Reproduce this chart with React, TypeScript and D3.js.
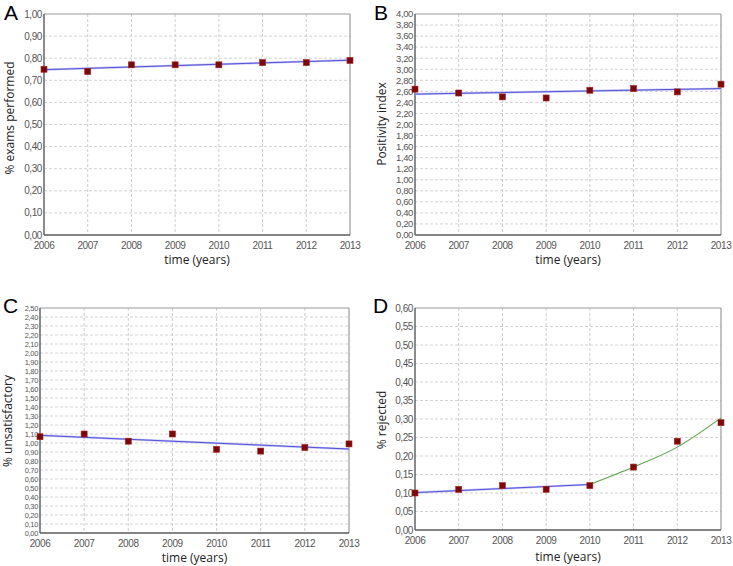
import React from "react";
import * as d3 from "d3";

const years = [2006, 2007, 2008, 2009, 2010, 2011, 2012, 2013];

const examsPerformed = [0.75, 0.74, 0.77, 0.77, 0.77, 0.78, 0.78, 0.79];
const examsTrend = [0.748, 0.791];

const positivityIndex = [2.64, 2.57, 2.5, 2.48, 2.62, 2.65, 2.59, 2.73];
const positivityTrend = [2.55, 2.65];

const unsatisfactory = [1.07, 1.1, 1.02, 1.1, 0.93, 0.91, 0.95, 0.99];
const unsatisfactoryTrend = [1.085, 0.933];

const rejected = [0.1, 0.11, 0.12, 0.11, 0.12, 0.17, 0.24, 0.29];
const rejectedTrendYears = [2006, 2010];
const rejectedTrend = [0.101, 0.123];
const rejectedCurveYears = [2010, 2011, 2012, 2013];
const rejectedCurve = [0.123, 0.17, 0.224, 0.303];

const ticksA = d3.range(0, 11).map((i) => i * 0.1);
const ticksB = d3.range(0, 21).map((i) => i * 0.2);
const ticksC = d3.range(0, 26).map((i) => i * 0.1);
const ticksD = d3.range(0, 13).map((i) => i * 0.05);

type Panel = {
  letter: string;
  ylabel: string;
  values: number[];
  trendYears: number[];
  trend: number[];
  curveYears?: number[];
  curve?: number[];
  ymax: number;
  ticks: number[];
  tickFont: number;
  tickSpacing: number;
  box: { l: number; r: number; t: number; b: number };
  letterPos: [number, number];
  ylabelPos: [number, number];
  xTickY: number;
  xTitleY: number;
};

const fmt = (v: number) => v.toFixed(2).replace(".", ",");

const panels: Panel[] = [
  {
    letter: "A",
    ylabel: "% exams performed",
    values: examsPerformed,
    trendYears: [2006, 2013],
    trend: examsTrend,
    ymax: 1,
    ticks: ticksA,
    tickFont: 10,
    tickSpacing: -0.4,
    box: { l: 44, r: 350, t: 14, b: 235 },
    letterPos: [4, 20],
    ylabelPos: [14, 118],
    xTickY: 249,
    xTitleY: 264,
  },
  {
    letter: "B",
    ylabel: "Positivity index",
    values: positivityIndex,
    trendYears: [2006, 2013],
    trend: positivityTrend,
    ymax: 4,
    ticks: ticksB,
    tickFont: 9.5,
    tickSpacing: -0.4,
    box: { l: 415, r: 721, t: 14, b: 235 },
    letterPos: [374, 20],
    ylabelPos: [386, 124],
    xTickY: 249,
    xTitleY: 264,
  },
  {
    letter: "C",
    ylabel: "% unsatisfactory",
    values: unsatisfactory,
    trendYears: [2006, 2013],
    trend: unsatisfactoryTrend,
    ymax: 2.5,
    ticks: ticksC,
    tickFont: 7.5,
    tickSpacing: -0.35,
    box: { l: 40, r: 349, t: 308, b: 533 },
    letterPos: [3, 313],
    ylabelPos: [12, 421],
    xTickY: 547,
    xTitleY: 562,
  },
  {
    letter: "D",
    ylabel: "% rejected",
    values: rejected,
    trendYears: rejectedTrendYears,
    trend: rejectedTrend,
    curveYears: rejectedCurveYears,
    curve: rejectedCurve,
    ymax: 0.6,
    ticks: ticksD,
    tickFont: 10,
    tickSpacing: -0.4,
    box: { l: 415, r: 721, t: 308, b: 530 },
    letterPos: [373, 313],
    ylabelPos: [386, 420],
    xTickY: 544,
    xTitleY: 561,
  },
];

function ChartPanel({ p }: { p: Panel }) {
  const { l, r, t, b } = p.box;
  const x = d3.scaleLinear().domain([2006, 2013]).range([l, r]);
  const y = d3.scaleLinear().domain([0, p.ymax]).range([b, t]);
  const line = d3
    .line<[number, number]>()
    .x((d) => x(d[0]))
    .y((d) => y(d[1]));
  const curveLine = d3
    .line<[number, number]>()
    .x((d) => x(d[0]))
    .y((d) => y(d[1]))
    .curve(d3.curveMonotoneX);
  const trendPts = p.trendYears.map((yr, i) => [yr, p.trend[i]] as [number, number]);
  const curvePts =
    p.curveYears && p.curve ? p.curveYears.map((yr, i) => [yr, p.curve![i]] as [number, number]) : null;
  const tickFont = "'Liberation Sans', Arial, sans-serif";
  return (
    <g>
      <text x={p.letterPos[0]} y={p.letterPos[1]} fontSize={21} fontFamily="'Liberation Sans', Arial, sans-serif" fill="#000">
        {p.letter}
      </text>
      {p.ticks.slice(1, -1).map((v, i) => (
        <line key={"h" + i} x1={l} x2={r} y1={y(v)} y2={y(v)} stroke="#d2d2d2" strokeWidth={1} strokeDasharray="3,2" />
      ))}
      {years.slice(1, -1).map((yr) => (
        <line key={"v" + yr} x1={x(yr)} x2={x(yr)} y1={t} y2={b} stroke="#cccccc" strokeWidth={1} strokeDasharray="3,2" />
      ))}
      <line x1={l} x2={r} y1={t} y2={t} stroke="#9a9a9a" strokeWidth={1.2} />
      <line x1={r} x2={r} y1={t} y2={b} stroke="#9a9a9a" strokeWidth={1.2} />
      <line x1={l} x2={l} y1={t} y2={b} stroke="#5a5a5a" strokeWidth={1.4} />
      <line x1={l} x2={r} y1={b} y2={b} stroke="#5a5a5a" strokeWidth={1.4} />
      {p.ticks.map((v, i) => (
        <text
          key={"yt" + i}
          x={l - 2}
          y={y(v)}
          dy="0.35em"
          textAnchor="end"
          fontSize={p.tickFont}
          fontFamily={tickFont}
          fill="#555"
          letterSpacing={p.tickSpacing}
        >
          {fmt(v)}
        </text>
      ))}
      {years.map((yr) => (
        <text
          key={"xt" + yr}
          x={x(yr)}
          y={p.xTickY}
          textAnchor="middle"
          fontSize={10}
          fontFamily={tickFont}
          fill="#555"
          letterSpacing={-0.4}
        >
          {yr}
        </text>
      ))}
      <text
        x={(l + r) / 2}
        y={p.xTitleY}
        textAnchor="middle"
        fontSize={12}
        fontFamily="'Open Sans', sans-serif"
        fill="#222"
      >
        time (years)
      </text>
      <text
        transform={`translate(${p.ylabelPos[0]},${p.ylabelPos[1]}) rotate(-90)`}
        textAnchor="middle"
        fontSize={12}
        fontFamily="'Open Sans', sans-serif"
        fill="#222"
      >
        {p.ylabel}
      </text>
      <path d={line(trendPts) || ""} fill="none" stroke="#c4c4f4" strokeWidth={2.2} />
      <path d={line(trendPts) || ""} fill="none" stroke="#4444d4" strokeWidth={0.9} />
      {curvePts && <path d={curveLine(curvePts) || ""} fill="none" stroke="#5aa04a" strokeWidth={1.1} />}
      {p.values.map((v, i) => (
        <rect
          key={"p" + i}
          x={x(years[i]) - 3}
          y={y(v) - 3}
          width={6}
          height={6}
          fill="#7a0a0a"
          stroke="#a82020"
          strokeWidth={0.6}
        />
      ))}
    </g>
  );
}

export default function App() {
  return (
    <svg width={733} height={566} style={{ position: "absolute", left: 0, top: 0, background: "#fff" }}>
      <rect width={733} height={566} fill="#fff" />
      {panels.map((p) => (
        <ChartPanel key={p.letter} p={p} />
      ))}
    </svg>
  );
}
